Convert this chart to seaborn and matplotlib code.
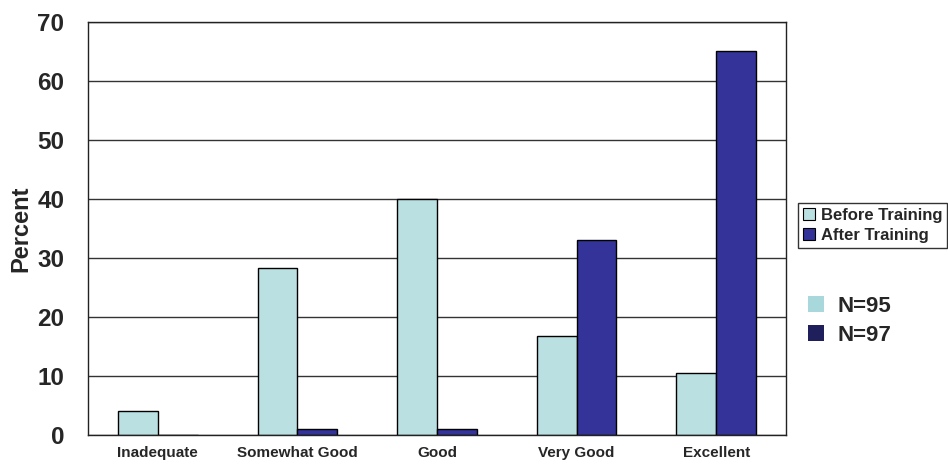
import numpy as np
import pandas as pd
import matplotlib
matplotlib.use("Agg")
import matplotlib.pyplot as plt
from matplotlib.patches import Patch
import seaborn as sns

categories = ["Inadequate", "Somewhat Good", "Good", "Very Good", "Excellent"]
before_training = [4.1, 28.3, 40.0, 16.8, 10.5]
after_training = [0.0, 1.1, 1.1, 33.0, 65.0]
series = ["Before Training", "After Training"]
sample_sizes = ["N=95", "N=97"]

df = pd.DataFrame({
    "Category": categories * 2,
    "Percent": before_training + after_training,
    "Group": [series[0]] * 5 + [series[1]] * 5,
})

sns.set_style("white")
plt.rcParams['font.family'] = ['Liberation Sans', 'DejaVu Sans']
plt.rcParams['font.weight'] = 'bold'

before_col = "#BAE0E2"
after_col = "#333399"

fig = plt.figure(figsize=(9.48, 4.67), dpi=100)
ax = fig.add_axes([0.0928, 0.0685, 0.7363, 0.8845])

sns.barplot(data=df, x="Category", y="Percent", hue="Group", order=categories,
            hue_order=series, palette=[before_col, after_col], width=0.57, gap=0,
            edgecolor="black", linewidth=1.0, saturation=1, ax=ax, legend=False)

ax.set_ylim(0, 70)
ax.set_yticks(range(0, 71, 10))
ax.yaxis.grid(True, color="#333333", linewidth=1.0)
ax.set_axisbelow(True)
for s in ax.spines.values():
    s.set_color("#222222")
    s.set_linewidth(1.0)
ax.set_xlim(-0.5, 4.5)
ax.set_xticks(np.arange(-0.5, 5, 1), minor=False)
ax.set_xticklabels([])
ax.set_xticks(range(5), minor=True)
ax.set_xticklabels(categories, minor=True, fontsize=11, fontweight="bold")
ax.tick_params(axis="x", which="major", direction="out", length=6, width=1, color="#333333")
ax.tick_params(axis="x", which="minor", length=0, pad=8)
ax.tick_params(axis="y", direction="out", length=8, width=1, color="#333333",
               labelsize=17.5, pad=9)
for t in ax.get_yticklabels():
    t.set_fontweight("bold")
ax.set_xlabel("")
ax.set_ylabel("Percent", fontsize=17, fontweight="bold")
ax.yaxis.set_label_coords(-0.08, 0.5)

handles = [Patch(facecolor=before_col, edgecolor="black", linewidth=0.8),
           Patch(facecolor=after_col, edgecolor="black", linewidth=0.8)]
leg = fig.legend(handles, series, loc="upper left", bbox_to_anchor=(0.842, 0.566),
                 borderaxespad=0, frameon=True, fancybox=False, edgecolor="black",
                 handlelength=0.7, handleheight=0.7, handletextpad=0.35, borderpad=0.3,
                 labelspacing=0.3, prop={"size": 12, "weight": "bold"})
leg.get_frame().set_linewidth(1.0)

n_handles = [Patch(facecolor="#A8D8DC", edgecolor="none"),
             Patch(facecolor="#1F1F5C", edgecolor="none")]
leg2 = fig.legend(n_handles, sample_sizes, loc="upper left", bbox_to_anchor=(0.852, 0.366),
                  borderaxespad=0, borderpad=0, frameon=False, handlelength=0.75,
                  handleheight=0.75, handletextpad=0.6, labelspacing=0.36,
                  prop={"size": 16, "weight": "bold"})

fig.savefig("out.png", dpi=100, facecolor="white")
